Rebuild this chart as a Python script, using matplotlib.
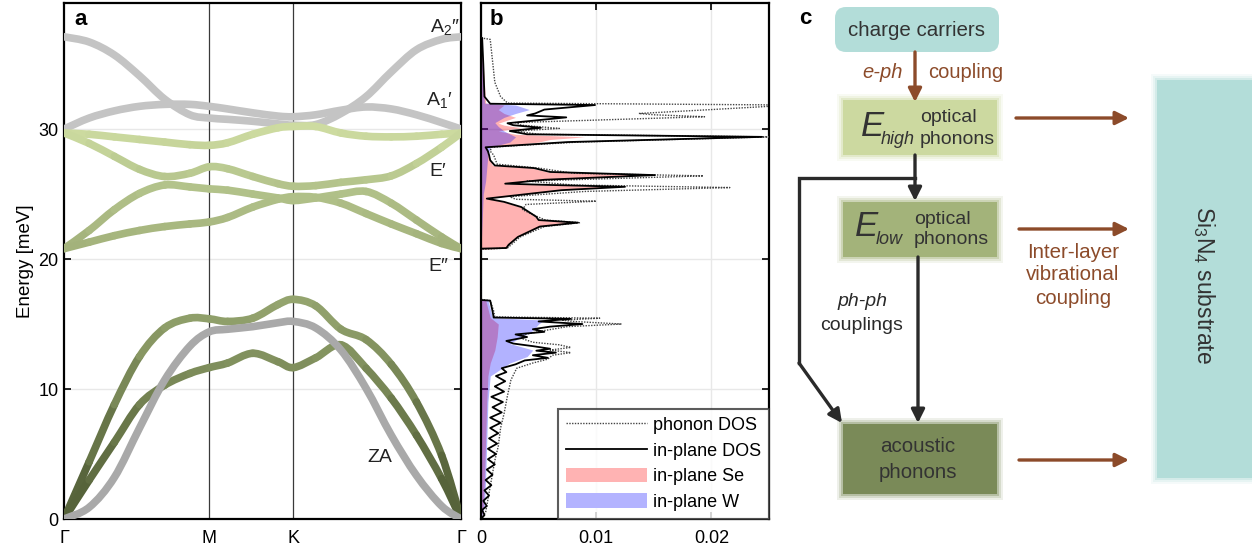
"""Phonon dispersion, in-plane DOS and relaxation scheme of WSe2 on Si3N4."""

import numpy as np
import matplotlib
matplotlib.use("Agg")
import matplotlib.pyplot as plt
from matplotlib.colors import LinearSegmentedColormap
from matplotlib.patches import Rectangle, FancyBboxPatch, Patch, PathPatch
from matplotlib.path import Path
from matplotlib.lines import Line2D

plt.rcParams["font.family"] = ["Liberation Sans", "DejaVu Sans"]
plt.rcParams["mathtext.fontset"] = "custom"
plt.rcParams["mathtext.rm"] = "Liberation Sans"
plt.rcParams["mathtext.it"] = "Liberation Sans:italic"
plt.rcParams["mathtext.bf"] = "Liberation Sans:bold"

# ---- panel a: dispersion along G-M-K-G (meV) ----
q_M, q_K, q_end = 0.577, 0.911, 1.577
q_path = [0.0, 0.1, 0.2, 0.3, 0.4, 0.5, 0.577, 0.65, 0.75, 0.85, 0.911,
          1.0, 1.1, 1.2, 1.3, 1.4, 1.5, 1.577]
band_A2pp = [37.1, 36.7, 35.7, 34.1, 32.3, 31.1, 30.85, 30.75, 30.6, 30.4, 30.3,
             30.35, 31.2, 32.5, 34.4, 36.1, 36.9, 37.1]
band_A1p = [30.0, 30.85, 31.4, 31.75, 31.9, 31.9, 31.75, 31.55, 31.25, 31.0, 30.95,
            31.1, 31.45, 31.7, 31.55, 31.1, 30.5, 30.0]
band_Ep_hi = [29.7, 29.6, 29.4, 29.2, 29.0, 28.8, 28.75, 28.95, 29.6, 30.1, 30.2,
              30.2, 29.7, 29.45, 29.4, 29.45, 29.6, 29.7]
band_Ep_lo = [29.7, 28.9, 27.9, 26.9, 26.35, 26.6, 27.1, 26.95, 26.35, 25.8, 25.6,
              25.65, 25.9, 26.1, 26.4, 27.35, 28.6, 29.7]
band_Epp_hi = [20.8, 22.2, 23.8, 25.05, 25.7, 25.55, 25.4, 25.3, 25.0, 24.7, 24.5,
               24.7, 25.0, 25.2, 24.3, 23.0, 21.7, 20.8]
band_Epp_lo = [20.8, 21.3, 21.8, 22.2, 22.5, 22.7, 22.85, 23.2, 24.0, 24.6, 24.8,
               24.75, 24.3, 23.5, 22.7, 21.95, 21.2, 20.8]
band_LA = [0.0, 4.4, 8.8, 12.5, 14.7, 15.45, 15.4, 15.2, 15.45, 16.5, 16.9,
           16.4, 14.6, 13.8, 11.9, 9.0, 4.9, 0.0]
band_TA = [0.0, 3.0, 5.9, 8.8, 10.3, 11.2, 11.65, 12.0, 12.75, 12.1, 11.65,
           12.4, 13.4, 11.6, 9.3, 6.45, 3.1, 0.0]
band_ZA = [0.0, 0.9, 3.2, 7.0, 10.7, 13.3, 14.4, 14.6, 14.8, 15.1, 15.2,
           14.7, 13.0, 10.05, 6.45, 3.35, 1.0, 0.0]

# ---- panel b: densities of states ----
phonon_E = [0.0, 0.5, 1.5, 3.0, 4.5, 5.6, 7.0, 8.1, 9.5, 10.7, 11.6, 12.0, 12.3,
            12.6, 12.8, 13.0, 13.2, 13.4, 13.6, 13.9, 14.2, 14.5, 14.8, 15.0, 15.2,
            15.3, 15.45, 15.55, 16.0, 16.8, 16.9, 20.75, 20.85, 21.7, 22.5, 22.8,
            23.0, 23.3, 23.8, 24.2, 24.45, 24.6, 24.8, 25.2, 25.5, 25.7, 26.0, 26.4,
            26.6, 27.0, 27.3, 28.0, 28.3, 28.6, 28.75, 29.0, 29.4, 29.6, 29.85, 30.05,
            30.3, 30.5, 30.95, 31.1, 31.2, 31.5, 31.85, 32.0, 32.5, 33.6, 36.9, 37.0,
            37.1]
phonon_dos = [0.0, 0.0004, 0.0006, 0.0009, 0.0012, 0.0015, 0.0017, 0.0020, 0.0023,
              0.0026, 0.0031, 0.0045, 0.0058, 0.0062, 0.0078, 0.0060, 0.0078, 0.0068,
              0.0045, 0.0035, 0.0038, 0.0055, 0.0075, 0.0122, 0.0080, 0.0070, 0.0103,
              0.0012, 0.0011, 0.0008, 0.0, 0.0, 0.0023, 0.0034, 0.0055, 0.0086, 0.0056,
              0.0048, 0.0036, 0.0039, 0.0100, 0.0030, 0.0025, 0.0090, 0.0216, 0.0080,
              0.0040, 0.0193, 0.0080, 0.0050, 0.0014, 0.0011, 0.0008, 0.0009, 0.0035,
              0.0085, 0.0250, 0.0050, 0.0030, 0.0068, 0.0035, 0.0030, 0.0194, 0.0150,
              0.0137, 0.0200, 0.0270, 0.0023, 0.0017, 0.0012, 0.0008, 0.0001, 0.0]

inplane_E = [0.0, 0.3, 0.7, 1.0, 1.4, 1.8, 2.2, 2.6, 3.0, 3.4, 3.8, 4.2, 4.6, 5.0,
             5.4, 5.8, 6.2, 6.6, 7.0, 7.4, 7.8, 8.2, 8.6, 9.0, 9.4, 9.8, 10.2, 10.6,
             11.0, 11.3, 11.6, 11.9, 12.2, 12.4, 12.6, 12.8, 12.95, 13.1, 13.3, 13.5,
             13.7, 14.0, 14.2, 14.4, 14.6, 14.8, 15.0, 15.2, 15.4, 15.5, 16.0, 16.8,
             16.85, 20.8, 20.85, 21.1, 21.7, 22.5, 22.8, 23.0, 23.25, 24.0, 24.4, 24.65,
             24.9, 25.3, 25.56, 25.7, 25.8, 26.1, 26.46, 26.7, 27.0, 27.2, 27.6, 28.0,
             28.3, 28.6, 28.75, 29.0, 29.4, 29.6, 29.85, 30.1, 30.3, 30.45, 30.9, 31.05,
             31.2, 31.5, 31.85, 31.95, 32.5, 35.0, 37.0]
inplane_dos = [0.0, 0.0003, 0.0001, 0.0005, 0.0002, 0.0007, 0.0003, 0.0009, 0.0004,
               0.0010, 0.0005, 0.0012, 0.0006, 0.0013, 0.0006, 0.0014, 0.0007, 0.0015,
               0.0008, 0.0017, 0.0008, 0.0018, 0.0010, 0.0019, 0.0009, 0.0020, 0.0012,
               0.0021, 0.0013, 0.0022, 0.0018, 0.0030, 0.0038, 0.0058, 0.0045, 0.0065,
               0.0048, 0.0060, 0.0045, 0.0028, 0.0022, 0.0040, 0.0030, 0.0055, 0.0045,
               0.0060, 0.0088, 0.0050, 0.0078, 0.0011, 0.0010, 0.0008, 0.0, 0.0, 0.0022,
               0.0024, 0.0032, 0.0051, 0.0084, 0.0050, 0.0048, 0.0035, 0.0020, 0.0005,
               0.0030, 0.0070, 0.0125, 0.0060, 0.0021, 0.0055, 0.0151, 0.0060, 0.0046,
               0.0012, 0.0008, 0.0007, 0.0006, 0.0004, 0.0030, 0.0075, 0.0244, 0.0040,
               0.0025, 0.0052, 0.0028, 0.0023, 0.0074, 0.0040, 0.0047, 0.0055, 0.0099,
               0.0008, 0.0003, 0.0002, 0.0001]

se_E = [0.0, 1.0, 3.0, 6.0, 9.0, 11.0, 12.0, 13.0, 14.0, 15.0, 15.5, 16.85, 16.9,
        20.75, 20.85, 21.1, 21.7, 22.5, 22.8, 23.0, 23.25, 24.0, 24.4, 24.65, 24.9,
        25.3, 25.56, 25.7, 25.8, 26.1, 26.46, 26.7, 27.0, 27.2, 28.0, 28.6, 28.75,
        29.0, 29.2, 29.4, 29.6, 29.85, 30.1, 30.3, 30.45, 30.9, 31.2, 31.5, 31.85,
        32.0, 35.0, 37.0]
se_dos = [0.0, 0.0002, 0.0003, 0.0004, 0.0005, 0.0006, 0.0008, 0.0012, 0.0014,
          0.0015, 0.0008, 0.0004, 0.0, 0.0, 0.0022, 0.0024, 0.0032, 0.0051, 0.0082,
          0.0050, 0.0047, 0.0034, 0.0019, 0.0005, 0.0029, 0.0068, 0.0120, 0.0058,
          0.0020, 0.0053, 0.0145, 0.0058, 0.0044, 0.0010, 0.0006, 0.0005, 0.0025,
          0.0050, 0.0060, 0.0090, 0.0030, 0.0015, 0.0035, 0.0020, 0.0015, 0.0030,
          0.0020, 0.0015, 0.0020, 0.0004, 0.0002, 0.0]

w_E = [0.0, 1.0, 3.0, 6.0, 9.0, 11.0, 12.0, 12.5, 13.0, 13.5, 14.0, 14.5, 15.0,
       15.3, 15.5, 16.85, 16.9, 20.75, 25.0, 26.0, 27.0, 28.0, 28.6, 29.0, 29.4,
       29.85, 30.2, 30.5, 30.9, 31.2, 31.5, 31.85, 32.0, 37.0]
w_dos = [0.0, 0.0003, 0.0004, 0.0005, 0.0006, 0.0008, 0.0025, 0.0040, 0.0045,
         0.0025, 0.0035, 0.0045, 0.0050, 0.0055, 0.0010, 0.0006, 0.0, 0.0, 0.0002,
         0.0004, 0.0005, 0.0006, 0.0008, 0.0025, 0.0030, 0.0020, 0.0015, 0.0012,
         0.0020, 0.0030, 0.0042, 0.0030, 0.0003, 0.0]

dos_labels = ["phonon DOS", "in-plane DOS", "in-plane Se", "in-plane W"]

band_cmap = LinearSegmentedColormap.from_list(
    "olive",
    [(0.0, "#515e36"), (0.25, "#6a784a"), (0.5, "#8e9e69"),
     (0.7, "#a3b27b"), (0.85, "#b2c28a"), (1.0, "#cddba0")])

E_MAX = 39.7
W, H = 1252, 552

fig = plt.figure(figsize=(12.52, 5.52), dpi=100)
ax_a = fig.add_axes([64 / W, 33 / H, 397 / W, 516 / H])
ax_b = fig.add_axes([481 / W, 33 / H, 288 / W, 516 / H])


def bezier_pieces(q, e):
    # smooth curve through the read points (Catmull-Rom drawn as cubic Beziers)
    p = np.column_stack([q, e])
    ext = np.vstack([p[0], p, p[-1]])
    pieces = []
    for i in range(len(p) - 1):
        p0, p1, p2, p3 = ext[i], ext[i + 1], ext[i + 2], ext[i + 3]
        c1 = p1 + (p2 - p0) / 6.0
        c2 = p2 - (p3 - p1) / 6.0
        pieces.append([p1, c1, c2, p2])
    return pieces


def green_band(ax, q, e):
    for pc in bezier_pieces(q, e):
        mid = (pc[0][1] + pc[3][1]) / 2
        path = Path(pc, [Path.MOVETO, Path.CURVE4, Path.CURVE4, Path.CURVE4])
        ax.add_patch(PathPatch(path, fill=False, edgecolor=band_cmap(min(mid / 30.0, 1.0)),
                               lw=5.5, capstyle="round", joinstyle="round", zorder=3))


def gray_band(ax, q, e, color):
    verts, codes = [], []
    for k, pc in enumerate(bezier_pieces(q, e)):
        if k == 0:
            verts.append(pc[0])
            codes.append(Path.MOVETO)
        verts.extend(pc[1:])
        codes.extend([Path.CURVE4] * 3)
    ax.add_patch(PathPatch(Path(verts, codes), fill=False, edgecolor=color, lw=5.5,
                           capstyle="round", joinstyle="round", zorder=3))


# panel a
gray_band(ax_a, q_path, band_A2pp, "#c4c4c4")
gray_band(ax_a, q_path, band_A1p, "#c4c4c4")
for b in (band_Ep_hi, band_Ep_lo, band_Epp_hi, band_Epp_lo, band_LA, band_TA):
    green_band(ax_a, q_path, b)
gray_band(ax_a, q_path, band_ZA, "#a9a9a9")

for qv in (q_M, q_K):
    ax_a.axvline(qv, color="#3a3a3a", lw=0.9, zorder=2)
ax_a.set_xlim(0, q_end)
ax_a.set_ylim(0, E_MAX)
ax_a.set_xticks([0, q_M, q_K, q_end])
ax_a.set_xticklabels(["Γ", "M", "K", "Γ"], fontsize=13)
ax_a.set_yticks([0, 10, 20, 30])
ax_a.tick_params(axis="x", length=0, pad=8)
ax_a.tick_params(axis="y", direction="in", right=True, length=5, width=1.2,
                 labelsize=13, pad=4)
ax_a.grid(axis="y", color="#e8e8e8", lw=1.0)
ax_a.set_axisbelow(True)
ax_a.set_ylabel("Energy [meV]", fontsize=13.5, labelpad=3)
for s in ax_a.spines.values():
    s.set_linewidth(1.6)
ax_a.text(0.025, 0.988, "a", transform=ax_a.transAxes, fontsize=16,
          fontweight="bold", va="top")
lab_kw = dict(fontsize=14, color="#222222", ha="right", va="center")
ax_a.text(0.996, 37.85, "A$_2$″", transform=ax_a.get_yaxis_transform(), **lab_kw)
ax_a.text(0.978, 32.2, "A$_1$′", transform=ax_a.get_yaxis_transform(), **lab_kw)
ax_a.text(0.962, 26.7, "E′", transform=ax_a.get_yaxis_transform(), **lab_kw)
ax_a.text(0.967, 19.4, "E″", transform=ax_a.get_yaxis_transform(), **lab_kw)
ax_a.text(1.255, 4.7, "ZA", fontsize=14, color="#222222", ha="center", va="center")

# panel b
ax_b.fill_betweenx(se_E, 0, se_dos, color="red", alpha=0.3, lw=0, zorder=2)
ax_b.fill_betweenx(w_E, 0, w_dos, color="blue", alpha=0.3, lw=0, zorder=2)
ax_b.plot(phonon_dos, phonon_E, color="#444444", lw=1.0, ls=(0, (1, 1)), zorder=3)
ax_b.plot(inplane_dos, inplane_E, color="black", lw=1.3, zorder=4)
ax_b.set_xlim(0, 0.025)
ax_b.set_ylim(0, E_MAX)
ax_b.set_xticks([0, 0.01, 0.02])
ax_b.set_xticklabels(["0", "0.01", "0.02"])
ax_b.set_yticks([10, 20, 30])
ax_b.set_yticklabels([])
ax_b.tick_params(axis="x", direction="in", top=True, length=5, width=1.2,
                 labelsize=13, pad=8)
ax_b.tick_params(axis="y", direction="in", right=True, length=5, width=1.2)
ax_b.grid(color="#e8e8e8", lw=1.0)
ax_b.set_axisbelow(True)
for s in ax_b.spines.values():
    s.set_linewidth(1.6)
ax_b.text(0.03, 0.988, "b", transform=ax_b.transAxes, fontsize=16,
          fontweight="bold", va="top")
handles = [Line2D([], [], color="#444444", lw=1.0, ls=(0, (1, 1))),
           Line2D([], [], color="black", lw=1.3),
           Patch(facecolor="#ffb3b3", edgecolor="none"),
           Patch(facecolor="#b3b3ff", edgecolor="none")]
leg = ax_b.legend(handles, dos_labels, loc="lower right", borderaxespad=0,
                  fontsize=13, handlelength=4.5, handleheight=0.85,
                  handletextpad=0.3, labelspacing=0.45, fancybox=False,
                  borderpad=0.45)
leg.get_frame().set_edgecolor("#333333")
leg.get_frame().set_linewidth(1.5)
leg.set_zorder(10)

# panel c: relaxation scheme, drawn in pixel coordinates
ax_c = fig.add_axes([0, 0, 1, 1])
ax_c.set_xlim(0, W)
ax_c.set_ylim(H, 0)
ax_c.axis("off")

brown = "#8c4b2a"
dark = "#2a2a2a"
teal = "#b3ddd9"


def soft_box(x0, y0, x1, y1, color):
    for k, a in [(6, 0.12), (4, 0.2), (2, 0.35)]:
        ax_c.add_patch(Rectangle((x0 - k, y0 - k), x1 - x0 + 2 * k, y1 - y0 + 2 * k,
                                 facecolor=color, edgecolor="none", alpha=a))
    ax_c.add_patch(Rectangle((x0, y0), x1 - x0, y1 - y0, facecolor=color,
                             edgecolor="none"))


def arrow(x0, y0, x1, y1, color):
    ax_c.annotate("", xy=(x1, y1), xytext=(x0, y0),
                  arrowprops=dict(arrowstyle="-|>", color=color, lw=2.4,
                                  mutation_scale=20, shrinkA=0, shrinkB=0))


ax_c.add_patch(FancyBboxPatch((835, 7), 164, 45, boxstyle="round,pad=0,rounding_size=11",
                              facecolor=teal, edgecolor="none"))
soft_box(843, 100, 997, 155, "#ccd9a0")
soft_box(843, 202, 997, 257, "#a3b37a")
soft_box(843, 424, 997, 494, "#7a8a58")
soft_box(1157, 80, 1262, 478, teal)

txt = "#333333"
ax_c.text(805, 19, "c", fontsize=16, fontweight="bold", ha="center", va="center")
ax_c.text(917, 30, "charge carriers", fontsize=14.8, color=txt, ha="center", va="center")
arrow(915, 52, 915, 102, brown)
ax_c.text(903, 72, "e-ph", fontsize=14.5, color=brown, style="italic", ha="right", va="center")
ax_c.text(928, 72, "coupling", fontsize=14.5, color=brown, ha="left", va="center")

ax_c.text(861, 126, "E", fontsize=25, color=txt, style="italic", ha="left", va="center")
ax_c.text(881, 139, "high", fontsize=13, color=txt, style="italic", ha="left", va="center")
ax_c.text(920, 118, "optical", fontsize=14, color=txt, ha="left", va="center")
ax_c.text(920, 139, "phonons", fontsize=14, color=txt, ha="left", va="center")

ax_c.text(855, 227, "E", fontsize=25, color=txt, style="italic", ha="left", va="center")
ax_c.text(876, 240, "low", fontsize=13, color=txt, style="italic", ha="left", va="center")
ax_c.text(914, 219, "optical", fontsize=14, color=txt, ha="left", va="center")
ax_c.text(914, 240, "phonons", fontsize=14, color=txt, ha="left", va="center")

ax_c.text(918, 447, "acoustic", fontsize=14.8, color=txt, ha="center", va="center")
ax_c.text(918, 473, "phonons", fontsize=14.8, color=txt, ha="center", va="center")

arrow(915, 155, 915, 201, dark)
ax_c.plot([915, 799, 799], [178, 178, 363], color=dark, lw=2.4, solid_joinstyle="miter")
arrow(799, 363, 842, 423, dark)
arrow(918, 257, 918, 423, dark)
ax_c.text(862, 302, "ph-ph", fontsize=14, color=dark, style="italic", ha="center", va="center")
ax_c.text(862, 325, "couplings", fontsize=14, color=dark, ha="center", va="center")

arrow(1016, 118, 1129, 118, brown)
arrow(1019, 229, 1129, 229, brown)
arrow(1019, 460, 1129, 460, brown)
for yy, s in zip([252, 275, 298], ["Inter-layer", "vibrational", "coupling"]):
    ax_c.text(1073, yy, s, fontsize=14.8, color=brown, ha="center", va="center")

ax_c.text(1204, 285, "Si$_3$N$_4$ substrate", fontsize=16.5, color=txt, rotation=270,
          ha="center", va="center")

fig.savefig("out.png", dpi=100)
